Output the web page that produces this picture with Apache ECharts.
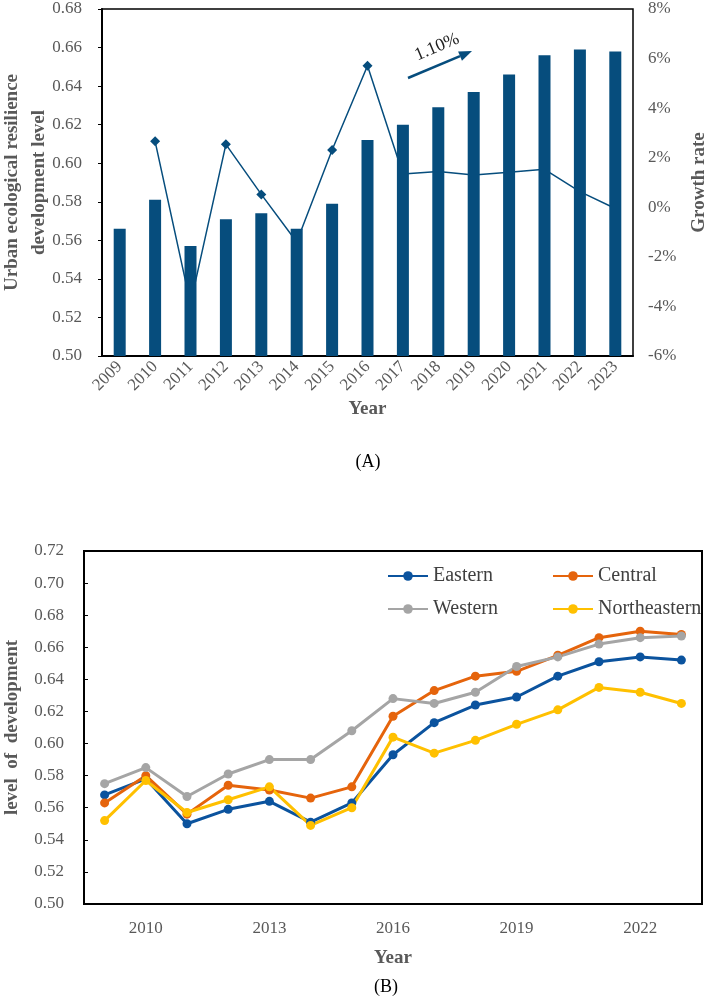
<!DOCTYPE html>
<html>
<head>
<meta charset="utf-8">
<script src="https://cdn.jsdelivr.net/npm/echarts@6/dist/echarts.min.js"></script>
<style>
html,body{margin:0;padding:0;background:#fff;}
#chart{width:706px;height:1001px;}
</style>
</head>
<body>
<div id="chart"></div>
<script>
// ---- Data ----
const years = ['2009','2010','2011','2012','2013','2014','2015','2016','2017','2018','2019','2020','2021','2022','2023'];
const resilienceLevel = [0.566,0.581,0.557,0.571,0.574,0.566,0.579,0.612,0.620,0.629,0.637,0.646,0.656,0.659,0.658];
const growthRate = [null,2.66,-3.9,2.54,0.52,-1.4,2.31,5.71,1.34,1.44,1.30,1.41,1.53,0.63,-0.05];
const eastern      = [0.568,0.578,0.550,0.559,0.564,0.551,0.563,0.593,0.613,0.624,0.629,0.642,0.651,0.654,0.652];
const central      = [0.563,0.580,0.556,0.574,0.571,0.566,0.573,0.617,0.633,0.642,0.645,0.655,0.666,0.670,0.668];
const western      = [0.575,0.585,0.567,0.581,0.590,0.590,0.608,0.628,0.625,0.632,0.648,0.654,0.662,0.666,0.667];
const northeastern = [0.552,0.577,0.557,0.565,0.573,0.549,0.560,0.604,0.594,0.602,0.612,0.621,0.635,0.632,0.625];
const annotationText = '1.10%';

// ---- Styles ----
const serif = 'Liberation Serif';
const gray = '#595959';
const barColor = '#064D7D';
const cE = '#0B539E', cC = '#E5640C', cW = '#A5A5A5', cN = '#FFC000';

const chart = echarts.init(document.getElementById('chart'));

function lineSeries(name, data, color) {
  return {
    name: name, type: 'line', xAxisIndex: 1, yAxisIndex: 2, data: data,
    symbol: 'circle', symbolSize: 9,
    lineStyle: {color: color, width: 3},
    itemStyle: {color: color},
    emphasis: {disabled: true}
  };
}

// arrow geometry (annotation)
const ax1 = 408, ay1 = 78, tipX = 472, tipY = 51;
const dx = tipX - ax1, dy = tipY - ay1, dl = Math.sqrt(dx*dx + dy*dy);
const ux = dx/dl, uy = dy/dl, nx = -uy, ny = ux;
const bx = tipX - 13*ux, by = tipY - 13*uy;

chart.setOption({
  animation: false,
  backgroundColor: '#fff',
  textStyle: {fontFamily: serif},
  grid: [
    {left: 102, top: 9, width: 531, height: 347, show: true, borderColor: '#000', borderWidth: 1.5,
     containLabel: false, outerBoundsMode: 'none'},
    {left: 84, top: 551, width: 618, height: 353, show: true, borderColor: '#000', borderWidth: 2,
     containLabel: false, outerBoundsMode: 'none'}
  ],
  legend: [
    {
      data: ['Eastern','Western'], orient: 'vertical', left: 382, top: 561,
      itemWidth: 40, itemHeight: 12, itemGap: 13,
      textStyle: {fontFamily: serif, fontSize: 20, color: '#404040', lineHeight: 20}
    },
    {
      data: ['Central','Northeastern'], orient: 'vertical', left: 547, top: 561,
      itemWidth: 40, itemHeight: 12, itemGap: 13,
      textStyle: {fontFamily: serif, fontSize: 20, color: '#404040', lineHeight: 20}
    }
  ],
  xAxis: [
    {
      type: 'category', gridIndex: 0, data: years,
      name: 'Year', nameLocation: 'middle', nameGap: 44, nameMoveOverlap: false,
      nameTextStyle: {fontFamily: serif, fontSize: 19, fontWeight: 'bold', color: gray},
      axisLine: {onZero: false, lineStyle: {color: '#000', width: 2}},
      axisTick: {inside: true, length: 5, lineStyle: {color: '#000', width: 1.5}},
      axisLabel: {rotate: 45, fontFamily: serif, fontSize: 17, color: gray, margin: 8},
      splitLine: {show: false}
    },
    {
      type: 'category', gridIndex: 1, data: years,
      name: 'Year', nameLocation: 'middle', nameGap: 45, nameMoveOverlap: false,
      nameTextStyle: {fontFamily: serif, fontSize: 19, fontWeight: 'bold', color: gray},
      axisLine: {onZero: false, lineStyle: {color: '#000', width: 2}},
      axisTick: {inside: true, length: 5, interval: 0, lineStyle: {color: '#000', width: 1.5}},
      axisLabel: {interval: function (i) { return i % 3 === 1; }, fontFamily: serif, fontSize: 17, color: gray, margin: 16},
      splitLine: {show: false}
    }
  ],
  yAxis: [
    {
      type: 'value', gridIndex: 0, min: 0.50, max: 0.68, interval: 0.02,
      name: 'Urban ecological resilience\ndevelopment level', nameLocation: 'middle', nameGap: 49, nameRotate: 90,
      nameMoveOverlap: false,
      nameTextStyle: {fontFamily: serif, fontSize: 19, fontWeight: 'bold', color: gray, lineHeight: 27},
      axisLine: {show: true, onZero: false, lineStyle: {color: '#000', width: 2}},
      axisTick: {show: true, inside: false, length: 4, lineStyle: {color: '#000'}},
      axisLabel: {formatter: function (v) { return v.toFixed(2); }, fontFamily: serif, fontSize: 17, color: gray, margin: 20},
      splitLine: {show: false}
    },
    {
      type: 'value', gridIndex: 0, position: 'right', min: -6, max: 8, interval: 2,
      name: 'Growth rate', nameLocation: 'middle', nameGap: 57, nameRotate: 90,
      nameTextStyle: {fontFamily: serif, fontSize: 19, fontWeight: 'bold', color: gray},
      axisLine: {show: false, onZero: false},
      axisTick: {show: false},
      axisLabel: {formatter: '{value}%', fontFamily: serif, fontSize: 17, color: gray, margin: 15},
      splitLine: {show: false}
    },
    {
      type: 'value', gridIndex: 1, min: 0.50, max: 0.72, interval: 0.02,
      name: 'level  of  development', nameLocation: 'middle', nameGap: 62, nameRotate: 90,
      nameTextStyle: {fontFamily: serif, fontSize: 19, fontWeight: 'bold', color: gray},
      axisLine: {show: true, onZero: false, lineStyle: {color: '#000', width: 2}},
      axisTick: {show: true, inside: true, length: 4, lineStyle: {color: '#000'}},
      axisLabel: {formatter: function (v) { return v.toFixed(2); }, fontFamily: serif, fontSize: 17, color: gray, margin: 20},
      splitLine: {show: false}
    }
  ],
  series: [
    {
      name: 'Growth rate', type: 'line', xAxisIndex: 0, yAxisIndex: 1, data: growthRate,
      z: 1, symbol: 'diamond', symbolSize: 10,
      lineStyle: {color: barColor, width: 1.5},
      itemStyle: {color: barColor},
      emphasis: {disabled: true}
    },
    {
      name: 'Level', type: 'bar', xAxisIndex: 0, yAxisIndex: 0, data: resilienceLevel,
      z: 3, barWidth: 12,
      itemStyle: {color: barColor},
      emphasis: {disabled: true}
    },
    lineSeries('Eastern', eastern, cE),
    lineSeries('Central', central, cC),
    lineSeries('Western', western, cW),
    lineSeries('Northeastern', northeastern, cN)
  ],
  graphic: [
    {type: 'line', shape: {x1: ax1, y1: ay1, x2: bx, y2: by}, style: {stroke: barColor, lineWidth: 2.5}, z: 10},
    {type: 'polygon', shape: {points: [[tipX, tipY], [bx + 5*nx, by + 5*ny], [bx - 5*nx, by - 5*ny]]}, style: {fill: barColor}, z: 10},
    {type: 'text', x: 437, y: 47, rotation: Math.atan2(-dy, dx), z: 10,
      style: {text: annotationText, fontFamily: serif, fontSize: 18, fill: '#222', align: 'center', verticalAlign: 'middle'}},
    {type: 'text', x: 368, y: 462, style: {text: '(A)', fontFamily: serif, fontSize: 18, fill: '#000', align: 'center', verticalAlign: 'middle'}},
    {type: 'text', x: 386, y: 987, style: {text: '(B)', fontFamily: serif, fontSize: 18, fill: '#000', align: 'center', verticalAlign: 'middle'}}
  ]
});
</script>
</body>
</html>
